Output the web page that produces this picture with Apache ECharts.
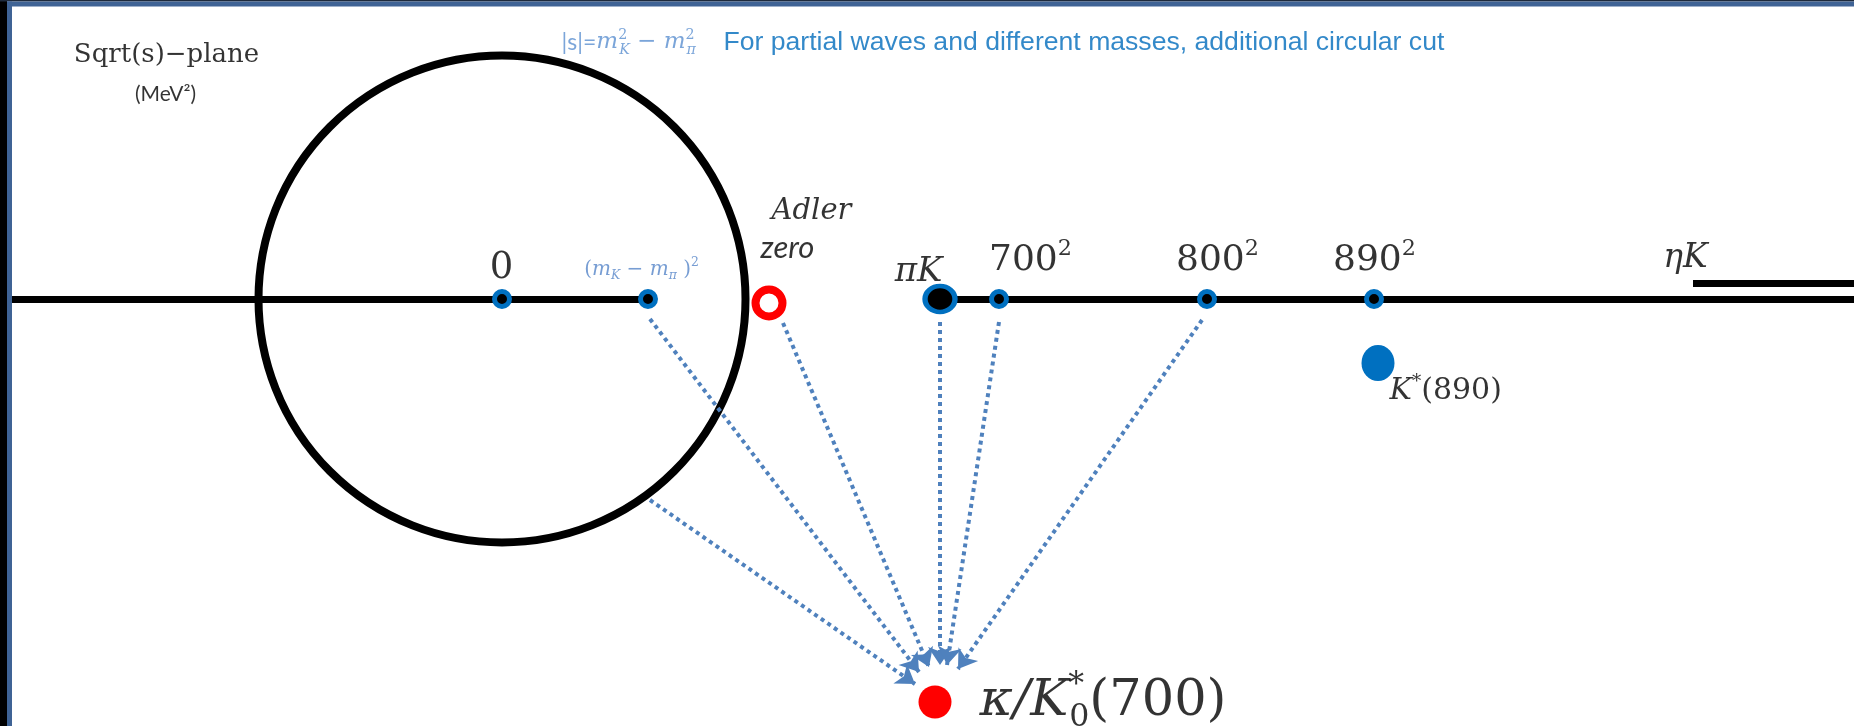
<!DOCTYPE html>
<html><head><meta charset="utf-8">
<script src="https://cdn.jsdelivr.net/npm/echarts@6/dist/echarts.min.js"></script>
<style>html,body{margin:0;padding:0;background:#fff;overflow:hidden}#c{width:1854px;height:726px}</style>
</head><body><div id="c"></div>
<script>
// ---- Diagram data: sketch of the complex s-plane (not to scale), origin at s = 0, imaginary part up ----
const cutPointNames = ['0', '(mK−mπ)²', '700²', '800²', '890²'];
const cutPointRe = [0, 146, 497, 705, 872];
const leftCutRe = [-490, 146];
const rightCutRe = [438, 1352];
const etaKCutRe = [1191, 1352];
const etaKCutIm = 16;
const circularCut = [0, 0, 243.5];          // centre re, centre im, radius
const piKThreshold = [438, 0];
const adlerZero = [267, -4];
const kStar892 = [876, -64];
const kappaPole = [433, -403];
const arrowFrom = [[148, -201], [148, -20], [281, -24], [438, -23], [497, -23], [700, -21]];
const arrowTo = [[413, -385], [417, -373], [427, -368], [438, -366], [445, -366], [456, -370]];

// ---- Text annotations ----
const labelNames = ['plane', 'units', 'formula', 'note', 'zeroLbl', 'threshLbl', 'adler', 'zero', 'piK', 'm700', 'm800', 'm890', 'etaK', 'kstar', 'kappa'];
const labelTexts = [
  '{u|Sqrt(s)−plane}',
  '(MeV²)',
  '{s|\|s\|=}{i|m}{spz|2}{sb|K}{u| − }{i|m}{spz|2}{sb|π}',
  'For partial waves and different masses, additional circular cut',
  '{u|0}',
  '{u|(}{i|m}{sb|K}{u| − }{i|m}{sb|π}{u| )}{sp|2}',
  '{i|Adler}',
  'zero',
  '{i|πK}',
  '{u|700}{sp|2}',
  '{u|800}{sp|2}',
  '{u|890}{sp|2}',
  '{i|ηK}',
  '{i|K}{sp|*}{u|(890)}',
  '{i|κ/K}{spz|*}{sbu|0}{u|(700)}'
];
const labelAnchors = [[-335, 243], [-336, 204], [60, 256], [222, 256], [0, 30], [140, 29], [310, 87], [286, 51], [417, 26], [529, 38], [716, 38], [873, 38], [1184, 40], [888, -93], [478, -403]];

// ---- styles ----
const SERIF = 'DejaVu Serif';
function mathRich(size, color) {
  return {
    u: {fontFamily: SERIF, fontSize: size, color: color, lineHeight: size * 1.25, verticalAlign: 'middle'},
    s: {fontFamily: 'Lato', fontSize: size, color: color, lineHeight: size * 1.25, verticalAlign: 'middle'},
    i: {fontFamily: SERIF, fontStyle: 'italic', fontSize: size, color: color, lineHeight: size * 1.25, verticalAlign: 'middle'},
    sp: {fontFamily: SERIF, fontSize: size * 0.62, color: color, lineHeight: size * 0.62, verticalAlign: 'top'},
    spz: {fontFamily: SERIF, fontSize: size * 0.62, color: color, lineHeight: size * 0.62, verticalAlign: 'top', width: 1},
    sb: {fontFamily: SERIF, fontStyle: 'italic', fontSize: size * 0.62, color: color, lineHeight: size * 0.67, verticalAlign: 'bottom'},
    sbu: {fontFamily: SERIF, fontSize: size * 0.62, color: color, lineHeight: size * 0.67, verticalAlign: 'bottom'}
  };
}
const labelStyles = {
  plane: {align: 'center', rich: mathRich(26, '#000')},
  units: {align: 'center', fontFamily: 'Lato', fontSize: 21, color: '#000'},
  formula: {align: 'left', rich: mathRich(23, '#5a8fd0')},
  note: {align: 'left', fontFamily: 'Liberation Sans', fontSize: 26.6, color: '#006cbc'},
  zeroLbl: {align: 'center', rich: mathRich(37, '#000')},
  threshLbl: {align: 'center', rich: mathRich(20, '#5585c8')},
  adler: {align: 'center', rich: mathRich(29, '#000')},
  zero: {align: 'center', fontFamily: 'Lato', fontStyle: 'italic', fontSize: 31, color: '#000'},
  piK: {align: 'center', rich: mathRich(34, '#000')},
  m700: {align: 'center', rich: mathRich(36, '#000')},
  m800: {align: 'center', rich: mathRich(36, '#000')},
  m890: {align: 'center', rich: mathRich(36, '#000')},
  etaK: {align: 'center', rich: mathRich(33, '#000')},
  kstar: {align: 'left', rich: mathRich(30, '#000')},
  kappa: {align: 'left', rich: mathRich(51, '#000')}
};

const labelData = labelNames.map((n, i) => ({
  name: n,
  value: labelAnchors[i],
  label: Object.assign({show: true, position: [0, 0], verticalAlign: 'middle', color: '#000', textBorderWidth: 0,
    formatter: () => labelTexts[i]}, labelStyles[n])
}));

const BLUE = '#0070c0';
const chart = echarts.init(document.getElementById('c'), null, {renderer: 'canvas'});
chart.setOption({
  animation: false,
  backgroundColor: '#ffffff',
  grid: {left: 0, right: 0, top: 0, bottom: 0},
  xAxis: {type: 'value', min: -502, max: 1352, show: false},
  yAxis: {type: 'value', min: -427, max: 299, show: false},
  graphic: [
    {type: 'rect', z: 100, shape: {x: 0, y: 0, width: 7, height: 726}, style: {fill: '#000'}},
    {type: 'rect', z: 100, shape: {x: 0, y: 0, width: 1854, height: 1.5}, style: {fill: '#1e2a3c'}},
    {type: 'rect', z: 100, shape: {x: 7, y: 1.5, width: 1847, height: 5}, style: {fill: '#3f6395'}},
    {type: 'rect', z: 100, shape: {x: 7, y: 1.5, width: 5, height: 725}, style: {fill: '#3f6395'}}
  ],
  series: [
    {
      type: 'custom', name: 'circular cut', clip: false, z: 1,
      encode: {x: 0, y: 1},
      data: [circularCut],
      renderItem: function (params, api) {
        const c = api.coord([api.value(0), api.value(1)]);
        const r = api.size([api.value(2), 0])[0];
        return {type: 'circle', shape: {cx: c[0], cy: c[1], r: r}, style: {fill: 'none', stroke: '#000', lineWidth: 8}};
      }
    },
    {
      type: 'lines', name: 'cuts', coordinateSystem: 'cartesian2d', z: 2,
      lineStyle: {color: '#000', width: 7, opacity: 1, curveness: 0},
      data: [
        {coords: [[leftCutRe[0], 0], [leftCutRe[1], 0]]},
        {coords: [[rightCutRe[0], 0], [rightCutRe[1], 0]]},
        {coords: [[etaKCutRe[0], etaKCutIm], [etaKCutRe[1], etaKCutIm]]}
      ]
    },
    {
      type: 'lines', name: 'arrows', coordinateSystem: 'cartesian2d', z: 3,
      symbol: ['none', 'arrow'], symbolSize: 18,
      lineStyle: {color: '#4f81bd', width: 4, opacity: 1, curveness: 0, type: [4, 4]},
      data: arrowFrom.map((f, i) => ({coords: [f, arrowTo[i]]}))
    },
    {
      type: 'scatter', name: 'cut points', z: 4, symbolSize: 15,
      itemStyle: {color: '#000', borderColor: BLUE, borderWidth: 5, opacity: 1},
      data: cutPointRe.map(r => [r, 0])
    },
    {
      type: 'scatter', name: 'piK threshold', z: 4, symbolSize: [30, 26],
      itemStyle: {color: '#000', borderColor: BLUE, borderWidth: 5, opacity: 1},
      data: [piKThreshold]
    },
    {
      type: 'scatter', name: 'Adler zero', z: 4, symbolSize: 27,
      itemStyle: {color: '#fff', borderColor: '#ff0000', borderWidth: 8, opacity: 1},
      data: [adlerZero]
    },
    {
      type: 'scatter', name: 'K*(890)', z: 4, symbolSize: [33, 36],
      itemStyle: {color: BLUE, opacity: 1},
      data: [kStar892]
    },
    {
      type: 'scatter', name: 'kappa', z: 4, symbolSize: 33,
      itemStyle: {color: '#ff0000', opacity: 1},
      data: [kappaPole]
    },
    {
      type: 'scatter', name: 'labels', z: 5, symbolSize: 1,
      itemStyle: {color: 'rgba(0,0,0,0)'},
      data: labelData
    }
  ]
});
</script></body></html>
